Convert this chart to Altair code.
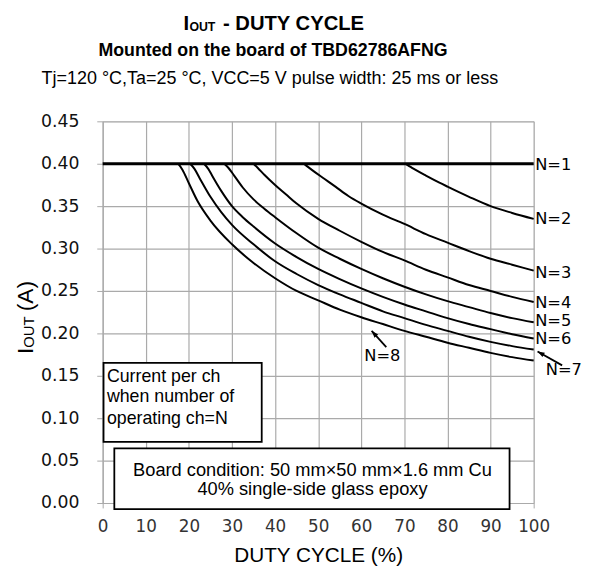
import altair as alt
import pandas as pd

# ---- data ----
duty_n1 = [0, 100]
iout_n1 = [0.400, 0.400]

duty_n2 = [70.2, 71.2, 72.5, 75, 78, 80, 85, 90, 95, 100]
iout_n2 = [0.400, 0.397, 0.393, 0.386, 0.378, 0.373, 0.361, 0.350, 0.342, 0.335]

duty_n3 = [46.7, 47.7, 49, 51.5, 54, 57, 60, 65, 70, 75, 80, 85, 90, 95, 100]
iout_n3 = [0.400, 0.396, 0.391, 0.382, 0.373, 0.362, 0.353, 0.340, 0.329, 0.317, 0.307, 0.297, 0.288, 0.281, 0.274]

duty_n4 = [35, 36, 37.5, 40, 42.5, 45, 50, 55, 60, 65, 70, 75, 80, 85, 90, 95, 100]
iout_n4 = [0.400, 0.395, 0.387, 0.375, 0.364, 0.353, 0.335, 0.321, 0.308, 0.296, 0.286, 0.275, 0.266, 0.257, 0.250, 0.243, 0.237]

duty_n5 = [28.2, 29.2, 30.5, 32.5, 35, 37.5, 40, 45, 50, 55, 60, 65, 70, 75, 80, 85, 90, 95, 100]
iout_n5 = [0.400, 0.395, 0.386, 0.372, 0.358, 0.347, 0.337, 0.318, 0.301, 0.288, 0.276, 0.265, 0.255, 0.246, 0.238, 0.231, 0.224, 0.218, 0.213]

duty_n6 = [23.5, 24.5, 25.5, 27.5, 30, 32.5, 35, 40, 45, 50, 55, 60, 65, 70, 75, 80, 85, 90, 95, 100]
iout_n6 = [0.400, 0.394, 0.385, 0.368, 0.350, 0.337, 0.326, 0.306, 0.290, 0.276, 0.264, 0.253, 0.243, 0.234, 0.226, 0.218, 0.211, 0.205, 0.199, 0.194]

duty_n7 = [20.3, 21.3, 22.5, 25, 27.5, 30, 35, 40, 45, 50, 55, 60, 65, 70, 75, 80, 85, 90, 95, 100]
iout_n7 = [0.400, 0.394, 0.383, 0.361, 0.343, 0.328, 0.305, 0.285, 0.270, 0.257, 0.246, 0.236, 0.226, 0.218, 0.210, 0.203, 0.196, 0.190, 0.185, 0.181]

duty_n8 = [17.5, 18.5, 20, 22, 25, 30, 35, 40, 45, 50, 55, 60, 65, 70, 75, 80, 85, 90, 95, 100]
iout_n8 = [0.400, 0.393, 0.377, 0.356, 0.333, 0.305, 0.283, 0.265, 0.250, 0.239, 0.228, 0.219, 0.211, 0.203, 0.196, 0.189, 0.183, 0.177, 0.172, 0.168]

series_names = ["N=1", "N=2", "N=3", "N=4", "N=5", "N=6", "N=7", "N=8"]
series_duty = [duty_n1, duty_n2, duty_n3, duty_n4, duty_n5, duty_n6, duty_n7, duty_n8]
series_iout = [iout_n1, iout_n2, iout_n3, iout_n4, iout_n5, iout_n6, iout_n7, iout_n8]

# right-hand labels (at curve ends)
end_labels = ["N=1", "N=2", "N=3", "N=4", "N=5", "N=6"]
end_label_duty = [100, 100, 100, 100, 100, 100]
end_label_iout = [0.398, 0.335, 0.2716, 0.236, 0.2140, 0.1928]

# arrow call-outs
arrow_names = ["N=8", "N=7"]
arrow_tail_duty = [65.8, 106.6]
arrow_tail_iout = [0.1837, 0.1623]
arrow_tip_duty = [62.4, 100.9]
arrow_tip_iout = [0.203, 0.1786]
arrow_text_duty = [64.9, 102.8]
arrow_text_iout = [0.1736, 0.1562]

# note boxes (data units)
box_x0 = [0.2, 2.7]
box_x1 = [36.9, 94.4]
box_y0 = [0.0721, -0.0072]
box_y1 = [0.1651, 0.0643]

x_ticks = list(range(0, 101, 10))
y_ticks = [0.00, 0.05, 0.10, 0.15, 0.20, 0.25, 0.30, 0.35, 0.40, 0.45]

# ---- tables ----
rows = []
for name, ds, vs in zip(series_names, series_duty, series_iout):
    for d, v in zip(ds, vs):
        rows.append({"N": name, "duty": d, "iout": v})
lines_df = pd.DataFrame(rows)

labels_df = pd.DataFrame({"label": end_labels, "duty": end_label_duty, "iout": end_label_iout})
arrows_df = pd.DataFrame({
    "label": arrow_names,
    "x0": arrow_tail_duty, "y0": arrow_tail_iout,
    "x1": arrow_tip_duty, "y1": arrow_tip_iout,
    "tx": arrow_text_duty, "ty": arrow_text_iout,
})
boxes_df = pd.DataFrame({"x0": box_x0, "x1": box_x1, "y0": box_y0, "y1": box_y1})
dummy = pd.DataFrame({"k": [0]})

GRID = "#aaaaaa"
x_scale = alt.Scale(domain=[0, 100], nice=False, zero=False)
y_scale = alt.Scale(domain=[0, 0.45], nice=False, zero=False)
x_axis = alt.Axis(values=x_ticks, title=None, grid=True, gridColor=GRID, gridWidth=1.2,
                  domainColor=GRID, tickColor=GRID, tickSize=5, labelPadding=11,
                  labelFlush=False, labelOverlap=False,
                  labelFont="DejaVu Sans", labelFontSize=17, labelColor="#333333")
y_axis = alt.Axis(values=y_ticks, format=".2f", title=None, grid=True, gridColor=GRID, gridWidth=1.2,
                  domainColor=GRID, tickColor=GRID, tickSize=6, labelPadding=18,
                  labelFlush=False, labelOverlap=False,
                  labelFont="DejaVu Sans", labelFontSize=17.5, labelColor="#111111")


def X(field):
    return alt.X(field, type="quantitative", scale=x_scale, axis=x_axis)


def Y(field):
    return alt.Y(field, type="quantitative", scale=y_scale, axis=y_axis)


boxes = alt.Chart(boxes_df).mark_rect(fill="white", stroke="black", strokeWidth=1.8).encode(
    x=X("x0"), x2="x1", y=Y("y0"), y2="y1")

curves = alt.Chart(lines_df).transform_filter(alt.datum.N != "N=1").mark_line(
    color="black", strokeWidth=2, interpolate="monotone").encode(
    x=X("duty"), y=Y("iout"), detail="N:N")

n1 = alt.Chart(lines_df).transform_filter(alt.datum.N == "N=1").mark_line(
    color="black", strokeWidth=3).encode(x=X("duty"), y=Y("iout"))

end_text = alt.Chart(labels_df).mark_text(align="left", baseline="middle", dx=1.5,
                                          font="DejaVu Sans", fontSize=16.5, color="black").encode(
    x=X("duty"), y=Y("iout"), text="label:N")

arrow_lines = alt.Chart(arrows_df).mark_rule(color="black", strokeWidth=1.8).encode(
    x=X("x0"), y=Y("y0"), x2="x1", y2="y1")

head_path = "M0,0L-0.6,1.7L0.6,1.7Z"
head8 = alt.Chart(arrows_df).transform_filter(alt.datum.label == "N=8").mark_point(
    shape=head_path, filled=True, color="black", size=70, angle=318, opacity=1).encode(
    x=X("x1"), y=Y("y1"))
head7 = alt.Chart(arrows_df).transform_filter(alt.datum.label == "N=7").mark_point(
    shape=head_path, filled=True, color="black", size=70, angle=299, opacity=1).encode(
    x=X("x1"), y=Y("y1"))

text8 = alt.Chart(arrows_df).transform_filter(alt.datum.label == "N=8").mark_text(
    align="center", baseline="middle", font="DejaVu Sans", fontSize=16.5, color="black").encode(
    x=X("tx"), y=Y("ty"), text="label:N")
text7 = alt.Chart(arrows_df).transform_filter(alt.datum.label == "N=7").mark_text(
    align="left", baseline="middle", font="DejaVu Sans", fontSize=16.5, color="black").encode(
    x=X("tx"), y=Y("ty"), text="label:N")


def txt(s, px, py, size, weight="normal", align="left", angle=0, baseline="alphabetic",
        font="Liberation Sans"):
    return alt.Chart(dummy).mark_text(text=s, fontSize=size, fontWeight=weight, align=align,
                                      baseline=baseline, angle=angle, font=font,
                                      color="black").encode(x=alt.value(px), y=alt.value(py))


annotations = [
    # title
    txt("I", 82, -92.5, 20.5, "bold"),
    txt("OUT", 87.9, -91.2, 12.5, "bold"),
    txt("- DUTY CYCLE", 122, -92.5, 20.5, "bold"),
    txt("Mounted on the board of TBD62786AFNG", 172.7, -66.5, 18, "bold", align="center"),
    txt("Tj=120 °C,Ta=25 °C, VCC=5 V pulse width: 25 ms or less", 169.5, -38, 18.2,
        align="center"),
    # y title (rotated)
    txt("I", -71, 236, 23, angle=270),
    txt("OUT", -69.5, 229.6, 15, angle=270),
    txt("(A)", -71, 192.5, 23, angle=270),
    # x title
    txt("DUTY CYCLE (%)", 219, 447, 21, align="center"),
    # box texts
    txt("Current per ch", 4.3, 259, 18, baseline="middle"),
    txt("when number of", 4.3, 280, 18, baseline="middle"),
    txt("operating ch=N", 4.3, 301.7, 18, baseline="middle"),
    txt("Board condition: 50 mm\u00d750 mm\u00d71.6 mm Cu", 212.7, 353.3, 18.5,
        align="center", baseline="middle"),
    txt("40% single-side glass epoxy", 212.7, 373.3, 18.5, align="center", baseline="middle"),
]

chart = alt.layer(
    boxes, curves, n1, end_text, arrow_lines, head8, head7, text8, text7, *annotations
).properties(
    width=437, height=387,
    autosize=alt.AutoSizeParams(type="none"),
    padding={"left": 96, "top": 111, "right": 50, "bottom": 64},
).configure_view(stroke=None).configure(background="white")

chart.save("out.html", embed_options={"renderer": "svg", "actions": False})
